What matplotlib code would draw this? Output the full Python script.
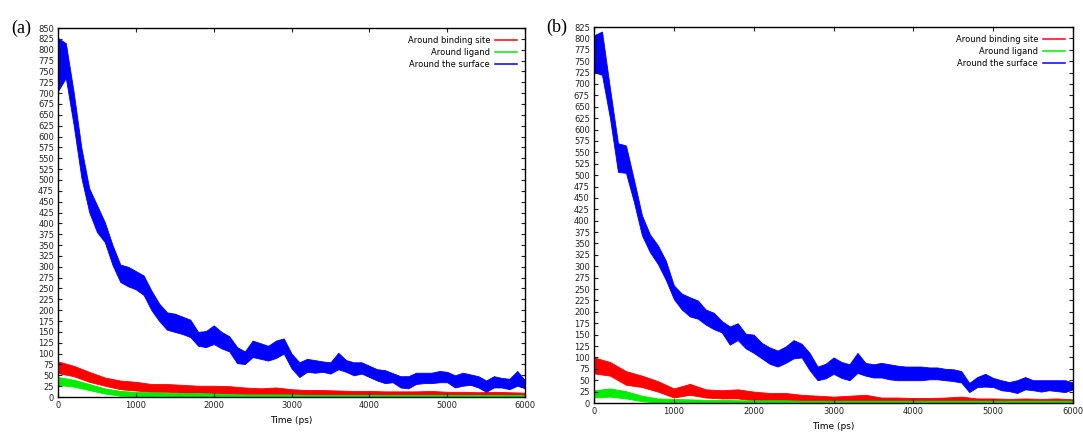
import numpy as np
import matplotlib
matplotlib.use("Agg")
import matplotlib.pyplot as plt
from matplotlib.lines import Line2D

# ---- data: lower / upper edge of each noisy trace ----
# blue every 100 ps, red and green every 200 ps, 0..6000 ps
surface_lo_a = [705, 735, 627, 505, 426, 380, 357, 304, 265, 255, 248, 235, 200, 175, 155, 150,
                145, 138, 118, 115, 122, 112, 105, 78, 76, 92, 88, 84, 90, 100, 66, 46,
                58, 56, 58, 54, 64, 58, 50, 54, 46, 38, 32, 34, 22, 20, 30, 32,
                32, 34, 34, 22, 26, 28, 22, 12, 22, 22, 18, 26, 20]
surface_hi_a = [827, 815, 703, 574, 481, 442, 403, 350, 305, 300, 290, 280, 245, 215, 195, 192,
                185, 178, 150, 152, 165, 150, 140, 115, 105, 130, 124, 118, 130, 135, 100, 80,
                88, 85, 82, 80, 102, 85, 80, 80, 72, 64, 62, 55, 48, 48, 56, 56,
                56, 60, 58, 50, 56, 52, 48, 38, 48, 44, 42, 60, 38]
binding_lo_a = [55, 48, 35, 26, 18, 15, 12, 12, 10, 10, 8, 8, 6, 5, 6, 4,
                3, 3, 3, 2, 2, 2, 2, 2, 2, 2, 1, 1, 1, 1, 2]
binding_hi_a = [82, 72, 58, 45, 38, 35, 30, 30, 28, 26, 26, 25, 22, 20, 22, 18,
                16, 16, 15, 14, 14, 13, 13, 13, 14, 12, 12, 11, 12, 11, 10]
ligand_lo_a = [28, 24, 16, 8, 3, 2, 2, 2, 1, 1, 1, 0, 0, 0, 0, 0,
               0, 0, 0, 0, 0, 0, 0, 0, 0, 0, 0, 0, 0, 0, 0]
ligand_hi_a = [46, 40, 30, 20, 14, 12, 11, 10, 9, 9, 8, 7, 6, 6, 6, 6,
               5, 5, 5, 5, 5, 5, 5, 5, 5, 5, 5, 5, 5, 5, 5]

surface_lo_b = [726, 720, 625, 507, 505, 441, 368, 331, 305, 270, 228, 205, 190, 185, 172, 162,
                155, 128, 138, 120, 110, 98, 86, 80, 88, 98, 100, 72, 50, 54, 64, 55,
                50, 66, 60, 56, 56, 52, 50, 50, 50, 50, 52, 52, 50, 48, 45, 24,
                35, 36, 35, 28, 26, 22, 30, 28, 25, 28, 26, 24, 30]
surface_hi_b = [807, 815, 690, 570, 565, 490, 412, 370, 346, 312, 258, 240, 232, 225, 205, 198,
                180, 168, 175, 152, 150, 132, 122, 115, 124, 138, 130, 110, 80, 86, 100, 90,
                85, 110, 88, 85, 88, 85, 82, 80, 80, 80, 78, 78, 75, 74, 70, 44,
                57, 64, 55, 50, 46, 50, 57, 50, 50, 50, 50, 50, 45]
binding_lo_b = [65, 60, 40, 35, 25, 12, 18, 12, 10, 10, 6, 5, 4, 3, 3, 2,
                2, 2, 1, 1, 1, 1, 1, 1, 1, 1, 1, 1, 0, 1, 1]
binding_hi_b = [100, 90, 70, 60, 48, 32, 42, 30, 28, 30, 25, 22, 22, 18, 16, 14,
                16, 18, 12, 12, 11, 11, 12, 14, 10, 10, 9, 10, 9, 10, 8]
ligand_lo_b = [12, 14, 10, 4, 1, 1, 1, 0, 0, 0, 0, 0, 0, 0, 0, 0,
               0, 0, 0, 0, 0, 0, 0, 0, 0, 0, 0, 0, 0, 0, 0]
ligand_hi_b = [28, 32, 26, 16, 10, 9, 8, 7, 7, 6, 6, 6, 6, 5, 5, 5,
               5, 5, 5, 5, 5, 5, 5, 5, 5, 5, 5, 5, 5, 5, 5]

labels = ["Around binding site", "Around ligand", "Around the surface"]
colors = ["#ff0000", "#00ee00", "#0000ff"]

panels = [
    {"tag": "(a)", "rect": [0.0536, 0.0915, 0.4312, 0.8444], "ymax": 850,
     "series": [(binding_lo_a, binding_hi_a), (ligand_lo_a, ligand_hi_a),
                (surface_lo_a, surface_hi_a)]},
    {"tag": "(b)", "rect": [0.5485, 0.0778, 0.4423, 0.8604], "ymax": 825,
     "series": [(binding_lo_b, binding_hi_b), (ligand_lo_b, ligand_hi_b),
                (surface_lo_b, surface_hi_b)]},
]

fig = plt.figure(figsize=(10.83, 4.37), dpi=100)

for p in panels:
    ax = fig.add_axes(p["rect"])
    for (lo, hi), col in zip(p["series"], colors):
        lo = np.array(lo, dtype=float)
        hi = np.array(hi, dtype=float)
        t = np.linspace(0, 6000, len(lo))
        ax.fill_between(t, lo, hi, color=col, lw=0.6, edgecolor=col)
    ax.set_xlim(0, 6000)
    ax.set_ylim(0, p["ymax"])
    ax.set_xticks(np.arange(0, 6001, 1000))
    ax.set_yticks(np.arange(0, p["ymax"] + 1, 25))
    ax.tick_params(direction="in", length=3, width=0.8, top=True, right=True,
                   labelsize=6, colors="#222222", pad=3)
    for s in ax.spines.values():
        s.set_linewidth(1.0)
    ax.set_xlabel("Time (ps)", fontsize=6.5, labelpad=4)
    handles = [Line2D([], [], color=c, lw=1.1) for c in colors]
    ax.legend(handles, labels, loc="upper right", frameon=False, fontsize=6,
              markerfirst=False, handlelength=2.6, handletextpad=0.6,
              labelspacing=0.35, borderaxespad=0.6)
    ax.text(-0.1, 1.0, p["tag"], transform=ax.transAxes, fontsize=13,
            family="Liberation Serif", ha="left", va="center")

fig.savefig("out.png", dpi=100)
